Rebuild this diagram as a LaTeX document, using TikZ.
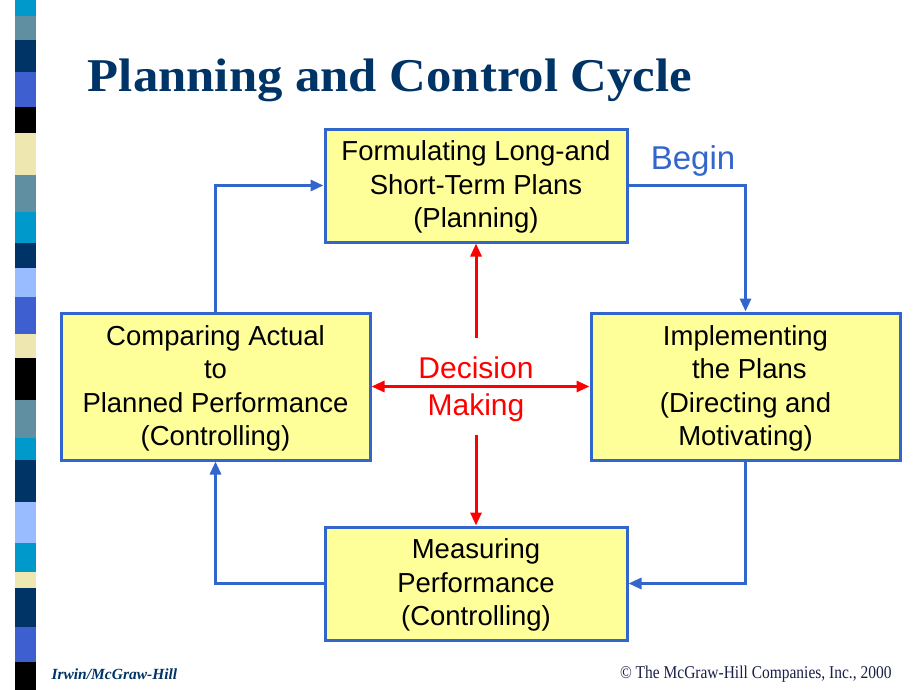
\documentclass[tikz,border=0pt]{standalone}
\usepackage{fontspec}
\setmainfont{Liberation Serif}
\setsansfont{Liberation Sans}
\usetikzlibrary{arrows.meta}
\definecolor{navy}{HTML}{003366}
\definecolor{boxblue}{HTML}{3366CC}
\definecolor{boxfill}{HTML}{FFFF99}
\definecolor{steel}{HTML}{5F8FA0}
\definecolor{stripcyan}{HTML}{0099CC}
\definecolor{royal}{HTML}{3D5FD0}
\definecolor{beige}{HTML}{EEE8B0}
\definecolor{lightblue}{HTML}{99BBFF}
\definecolor{decred}{HTML}{FF0000}
\definecolor{footgray}{HTML}{1A1E46}
\begin{document}
\begin{tikzpicture}[x=1pt,y=-1pt,>={Triangle[length=13pt,width=11pt]},
  stagebox/.style={draw=boxblue,line width=3pt,fill=boxfill,align=center,inner sep=0pt,
    font=\fontsize{27.5}{33.5}\selectfont\sffamily},
  cycleline/.style={draw=boxblue,line width=3pt,->},
  decline/.style={draw=decred,line width=3pt,->}]
\useasboundingbox (0,0) rectangle (920,690);
% left strip
\foreach \ya/\yb/\c in {0/16/stripcyan,16/40/steel,40/72/navy,72/107/royal,107/133/black,
  133/175/beige,175/212/steel,212/243/stripcyan,243/268/navy,268/297/lightblue,297/334/royal,
  334/358/beige,358/400/black,400/438/steel,438/460/stripcyan,460/502/navy,502/543/lightblue,
  543/572/stripcyan,572/588/beige,588/627/navy,627/662/royal,662/690/black}
  \fill[\c] (15,\ya) rectangle (36,\yb);
% title
\node[anchor=base,text=navy,font=\fontsize{47}{47}\selectfont\bfseries] (title) at (390,92)
  {\scalebox{1.08}[1]{Planning and Control Cycle}};
% stages
\node[stagebox,minimum width=302,minimum height=113] (plan) at (476,185.5)
  {\strut Formulating Long-and\\Short-Term Plans\\(Planning)};
\node[stagebox,minimum width=309,minimum height=147] (impl) at (745.5,386.5)
  {\strut Implementing\\\ the Plans\\(Directing and\\Motivating)};
\node[stagebox,minimum width=302,minimum height=113] (meas) at (476,583.5)
  {\strut Measuring\\Performance\\(Controlling)};
\node[stagebox,minimum width=309,minimum height=147] (comp) at (215.5,386.5)
  {\strut Comparing Actual\\to\\Planned Performance\\(Controlling)};
\node[text=boxblue,font=\fontsize{33}{33}\selectfont\sffamily] (begin) at (693,161) {Begin};
\node[text=decred,align=center,font=\fontsize{30}{37}\selectfont\sffamily] (dm) at (476,389)
  {Decision\\Making};
\coordinate (dtop) at (476,338);
\coordinate (dbot) at (476,435);
% cycle
\draw[cycleline] (plan.east) -| (impl.north);
\draw[cycleline] (impl.south) |- (meas.east);
\draw[cycleline] (meas.west) -| (comp.south);
\draw[cycleline] (comp.north) |- (plan.west);
% decision making
\draw[decline] (dtop) -- (plan.south);
\draw[decline] (dbot) -- (meas.north);
\draw[decline,<->] (comp.east) -- (impl.west);
% footer
\node[anchor=base west,text=navy,font=\fontsize{15.5}{15.5}\selectfont\bfseries\itshape] (publisher)
  at (48,679) {Irwin/McGraw-Hill};
\node[anchor=base east,text=footgray,font=\fontsize{18}{18}\selectfont] (copyright) at (895,678)
  {\scalebox{0.86}[1]{\textcopyright{} The McGraw-Hill Companies, Inc., 2000}};
\end{tikzpicture}
\end{document}
